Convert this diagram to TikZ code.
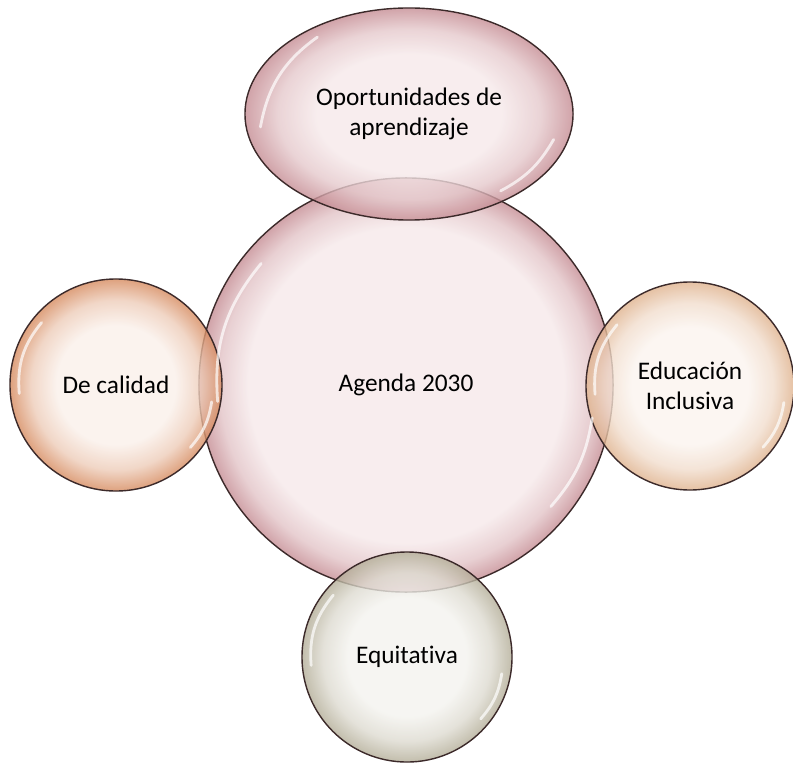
\documentclass[tikz,border=0pt]{standalone}
\usepackage{fontspec}
\setmainfont{Carlito}[Ligatures=NoCommon]
\usetikzlibrary{positioning,shapes.geometric,calc}

\definecolor{rosa}{HTML}{C58C93}
\definecolor{rosaclaro}{HTML}{F6E9EA}
\definecolor{naranja}{HTML}{D68A5E}
\definecolor{naranjaclaro}{HTML}{FAF0EA}
\definecolor{durazno}{HTML}{DFB28D}
\definecolor{duraznoclaro}{HTML}{FBF4EF}
\definecolor{oliva}{HTML}{B3AD97}
\definecolor{olivaclaro}{HTML}{F4F3EF}
\definecolor{borde}{HTML}{3C2A2A}

\colorlet{bubbleinner}{white}
\colorlet{bubbleouter}{gray}
% rim for the small bubbles
\pgfdeclareradialshading[bubbleinner,bubbleouter]{bubble}{\pgfpoint{0bp}{0bp}}{%
  color(0bp)=(bubbleinner); color(14bp)=(bubbleinner);
  color(20bp)=(bubbleinner!65!bubbleouter); color(25bp)=(bubbleouter); color(50bp)=(bubbleouter)}
% thin rim for the big one
\pgfdeclareradialshading[bubbleinner,bubbleouter]{bigbubble}{\pgfpoint{0bp}{0bp}}{%
  color(0bp)=(bubbleinner); color(19bp)=(bubbleinner);
  color(22.5bp)=(bubbleinner!60!bubbleouter); color(25bp)=(bubbleouter); color(50bp)=(bubbleouter)}

\tikzset{
  bubble/.style 2 args={circle, draw=borde, line width=1pt, inner sep=0pt, align=center,
    font=\fontsize{18}{21}\selectfont, fill opacity=.8, text opacity=1,
    /utils/exec={\colorlet{bubbleinner}{#1}\colorlet{bubbleouter}{#2}}, shading=bubble},
  glint/.style={white, line width=2pt, opacity=.7, line cap=round}
}

\begin{document}
\begin{tikzpicture}[x=0.025cm,y=0.025cm]
    \useasboundingbox (0,0) rectangle (793,765);

    \node[bubble={rosaclaro}{rosa},shading=bigbubble,minimum size=10.35cm] (agenda) at (406,380) {Agenda 2030};
    \node[bubble={rosaclaro}{rosa},ellipse,minimum width=8.2cm,minimum height=5.3cm] (oportunidades) at (409,651) {Oportunidades de\\aprendizaje};
    \node[bubble={naranjaclaro}{naranja},minimum size=5.3cm] (calidad) at (116,380) {De calidad};
    \node[bubble={duraznoclaro}{durazno},minimum size=5.2cm] (inclusiva) at (690,379) {Educación\\Inclusiva};
    \node[bubble={olivaclaro}{oliva},minimum size=5.25cm] (equitativa) at (407,108) {Equitativa};

    \foreach \n in {agenda,oportunidades,calidad,inclusiva,equitativa} {
        \draw[glint] ($(\n.center)!.91!(\n.140)$) to[bend right=22] ($(\n.center)!.91!(\n.185)$);
        \draw[glint] ($(\n.center)!.91!(\n.320)$) to[bend right=16] ($(\n.center)!.91!(\n.350)$);
    }
\end{tikzpicture}
\end{document}
